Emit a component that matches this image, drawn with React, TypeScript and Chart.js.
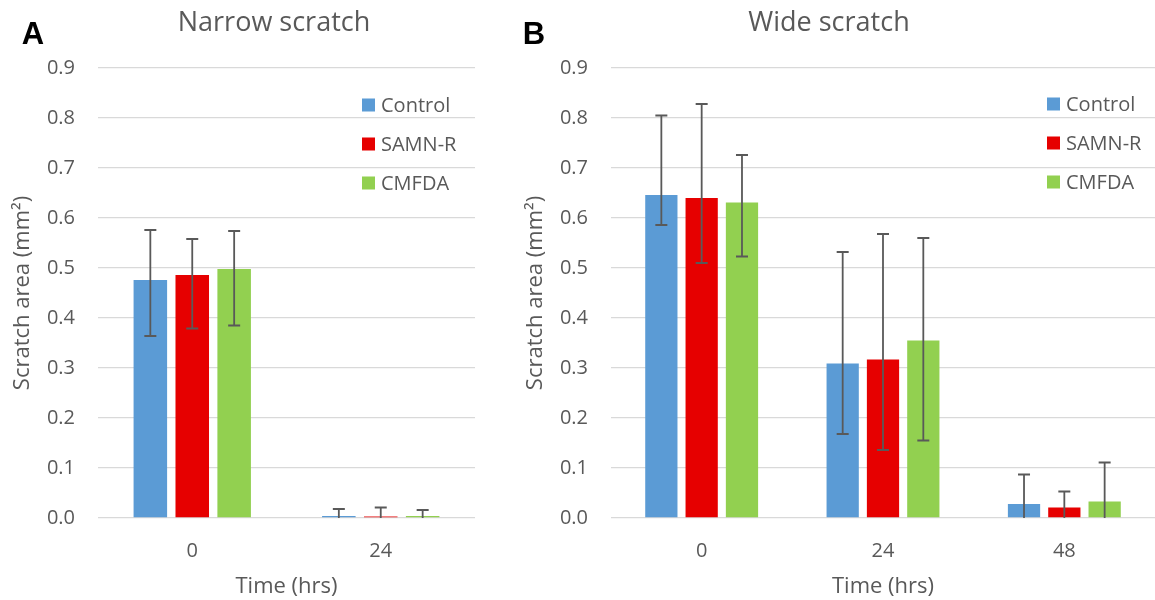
import React, { useEffect, useRef } from 'react';
import { Chart, registerables } from 'chart.js';

Chart.register(...registerables);

// ---------- data ----------
const SERIES_NAMES = ['Control', 'SAMN-R', 'CMFDA'];
const SERIES_COLORS = ['#5B9BD5', '#E60000', '#92D050'];
const Y_TICK_VALUES = [0, 0.1, 0.2, 0.3, 0.4, 0.5, 0.6, 0.7, 0.8, 0.9];

const narrowTimes = ['0', '24'];
const narrowControl = [0.476, 0.004];
const narrowSamnR = [0.486, 0.003];
const narrowCmfda = [0.498, 0.004];
const narrowControlHigh = [0.576, 0.018];
const narrowControlLow = [0.364, 0];
const narrowSamnRHigh = [0.558, 0.021];
const narrowSamnRLow = [0.379, 0];
const narrowCmfdaHigh = [0.574, 0.016];
const narrowCmfdaLow = [0.385, 0];

const wideTimes = ['0', '24', '48'];
const wideControl = [0.646, 0.309, 0.028];
const wideSamnR = [0.64, 0.317, 0.021];
const wideCmfda = [0.631, 0.355, 0.033];
const wideControlHigh = [0.805, 0.532, 0.087];
const wideControlLow = [0.586, 0.168, 0];
const wideSamnRHigh = [0.828, 0.568, 0.053];
const wideSamnRLow = [0.51, 0.136, 0];
const wideCmfdaHigh = [0.726, 0.56, 0.111];
const wideCmfdaLow = [0.523, 0.155, 0];

// ---------- style ----------
const FONT = '"Open Sans", "DejaVu Sans", sans-serif';
const TEXT = '#595959';
const GRID = '#d9d9d9';
const ERR = '#595959';

const errorBarPlugin = {
  id: 'errorBars',
  afterDatasetsDraw(chart: any) {
    const { ctx } = chart;
    const yScale = chart.scales.y;
    chart.data.datasets.forEach((ds: any, i: number) => {
      const meta = chart.getDatasetMeta(i);
      meta.data.forEach((el: any, j: number) => {
        const x = el.x;
        const yh = yScale.getPixelForValue(ds.errHigh[j]);
        const yl = yScale.getPixelForValue(ds.errLow[j]);
        ctx.save();
        ctx.strokeStyle = ERR;
        ctx.lineWidth = 1.8;
        ctx.beginPath();
        ctx.moveTo(x, yl);
        ctx.lineTo(x, yh);
        ctx.moveTo(x - 6, yh);
        ctx.lineTo(x + 6, yh);
        if (ds.errLow[j] > 0) {
          ctx.moveTo(x - 6, yl);
          ctx.lineTo(x + 6, yl);
        }
        ctx.stroke();
        ctx.restore();
      });
    });
  },
};

const decoPlugin = {
  id: 'panelDeco',
  afterDraw(chart: any, _args: any, opts: any) {
    const { ctx } = chart;
    ctx.save();
    // panel letter
    ctx.fillStyle = '#000000';
    ctx.font = `bold 31px "Liberation Sans", Arial, sans-serif`;
    ctx.textAlign = 'center';
    ctx.textBaseline = 'alphabetic';
    ctx.fillText(opts.letter, opts.letterX, 44);
    // title
    ctx.fillStyle = TEXT;
    ctx.font = `27px ${FONT}`;
    ctx.fillText(opts.title, opts.titleX, 31);
    // legend
    ctx.font = `20px ${FONT}`;
    ctx.textAlign = 'left';
    ctx.textBaseline = 'middle';
    chart.data.datasets.forEach((ds: any, i: number) => {
      const yc = opts.legendY[i];
      ctx.fillStyle = ds.backgroundColor;
      ctx.fillRect(opts.legendX, yc - 6.5, 13, 13);
      ctx.fillStyle = TEXT;
      ctx.fillText(ds.label, opts.legendX + 19, yc + 1);
    });
    ctx.restore();
  },
};

function makeConfig(
  labels: string[],
  values: number[][],
  highs: number[][],
  lows: number[][],
  deco: any,
  yWidth: number,
  padRight: number,
  yTitlePad: number
): any {
  return {
    type: 'bar',
    data: {
      labels,
      datasets: SERIES_NAMES.map((name, i) => ({
        label: name,
        data: values[i],
        errHigh: highs[i],
        errLow: lows[i],
        backgroundColor: SERIES_COLORS[i],
        borderWidth: 0,
        barPercentage: 0.8,
        categoryPercentage: 0.667,
      })),
    },
    options: {
      responsive: false,
      animation: false,
      layout: { padding: { top: 68, right: padRight, bottom: 0, left: 0 } },
      plugins: {
        legend: { display: false },
        tooltip: { enabled: false },
        title: { display: false },
        panelDeco: deco,
      },
      scales: {
        x: {
          grid: { display: false },
          border: { display: false },
          ticks: { color: TEXT, font: { family: FONT, size: 20 }, padding: 13 },
          title: {
            display: true,
            text: 'Time (hrs)',
            color: TEXT,
            font: { family: FONT, size: 22 },
            padding: { top: 0, bottom: 0 },
          },
          afterFit: (scale: any) => {
            scale.height = 82;
          },
        },
        y: {
          min: 0,
          max: 0.9,
          grid: { color: GRID, lineWidth: 1.3, drawTicks: false },
          border: { display: false },
          ticks: {
            color: TEXT,
            font: { family: FONT, size: 20 },
            padding: 23,
            callback: (v: any) => Number(v).toFixed(1),
          },
          afterBuildTicks: (scale: any) => {
            scale.ticks = Y_TICK_VALUES.map((v) => ({ value: v }));
          },
          title: {
            display: true,
            text: 'Scratch area (mm²)',
            color: TEXT,
            font: { family: FONT, size: 22 },
            padding: { top: yTitlePad, bottom: 0 },
          },
          afterFit: (scale: any) => {
            scale.width = yWidth;
          },
        },
      },
    },
    plugins: [errorBarPlugin, decoPlugin],
  };
}

function ChartCanvas({ config, width, height }: { config: any; width: number; height: number }) {
  const ref = useRef<HTMLCanvasElement | null>(null);
  useEffect(() => {
    if (!ref.current) return;
    const chart = new Chart(ref.current, config);
    return () => chart.destroy();
  }, [config]);
  return <canvas ref={ref} width={width} height={height} style={{ display: 'block', width, height }} />;
}

const narrowConfig = makeConfig(
  narrowTimes,
  [narrowControl, narrowSamnR, narrowCmfda],
  [narrowControlHigh, narrowSamnRHigh, narrowCmfdaHigh],
  [narrowControlLow, narrowSamnRLow, narrowCmfdaLow],
  { letter: 'A', letterX: 33, title: 'Narrow scratch', titleX: 274, legendX: 362, legendY: [105, 144, 183] },
  98,
  25,
  10
);

const wideConfig = makeConfig(
  wideTimes,
  [wideControl, wideSamnR, wideCmfda],
  [wideControlHigh, wideSamnRHigh, wideCmfdaHigh],
  [wideControlLow, wideSamnRLow, wideCmfdaLow],
  { letter: 'B', letterX: 34, title: 'Wide scratch', titleX: 329, legendX: 547, legendY: [104, 143, 182] },
  111,
  0,
  23
);

export default function App() {
  return (
    <div
      style={{
        position: 'fixed',
        left: 0,
        top: 0,
        width: 1155,
        height: 600,
        background: '#ffffff',
        overflow: 'hidden',
      }}
    >
      <div style={{ position: 'absolute', left: 0, top: 0 }}>
        <ChartCanvas config={narrowConfig} width={500} height={600} />
      </div>
      <div style={{ position: 'absolute', left: 500, top: 0 }}>
        <ChartCanvas config={wideConfig} width={655} height={600} />
      </div>
    </div>
  );
}
